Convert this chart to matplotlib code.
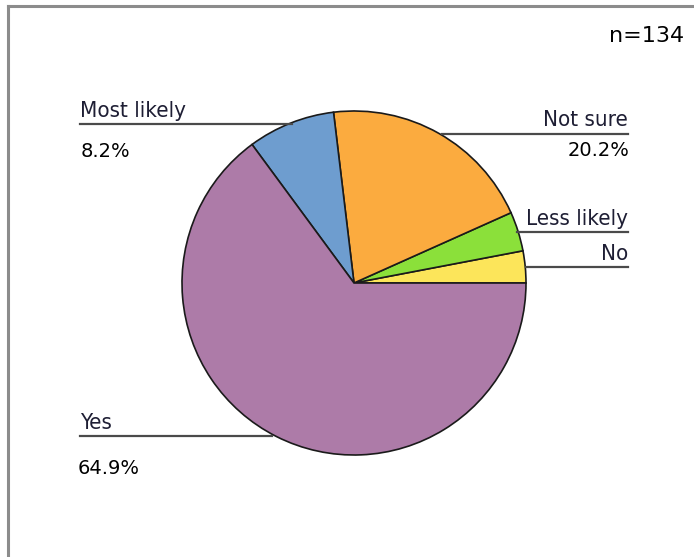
import matplotlib
matplotlib.use("Agg")
import matplotlib.pyplot as plt
from matplotlib.lines import Line2D

labels = ["No", "Less likely", "Not sure", "Most likely", "Yes"]
values = [3.0, 3.7, 20.2, 8.2, 64.9]
pct_labels = ["", "", "20.2%", "8.2%", "64.9%"]
colors = ["#FCE55A", "#8BE03A", "#FBAB3F", "#6E9DCF", "#AD7BA8"]
n_text = "n=134"

W, H = 694, 557
fig = plt.figure(figsize=(W / 100, H / 100), dpi=100)
ax = fig.add_axes([0, 0, 1, 1])

def Y(py):
    return H - py

ax.pie(values, colors=colors, startangle=0, counterclock=True,
       center=(354, Y(283)), radius=172, frame=True,
       wedgeprops=dict(edgecolor="#1a1a1a", linewidth=1.2))
ax.set_xlim(0, W)
ax.set_ylim(0, H)
ax.axis("off")

# frame lines (top and left)
ax.add_line(Line2D([8, W], [Y(6), Y(6)], color="#8c8c8c", lw=2.2, clip_on=False))
ax.add_line(Line2D([8, 8], [Y(6), 0], color="#8c8c8c", lw=2.2, clip_on=False))

lab_font = dict(family="DejaVu Sans", stretch="condensed", fontsize=16, color="#1e1e34")
pct_font = dict(family="DejaVu Sans", fontsize=14, color="#000000")
line_kw = dict(color="#4a4a4a", lw=1.6)

# Most likely
ax.plot([80, 292], [Y(124), Y(124)], **line_kw)
ax.text(80, Y(117), labels[3], ha="left", va="baseline", **lab_font)
ax.text(81, Y(151.5), pct_labels[3], ha="left", va="center", **pct_font)

# Not sure
ax.plot([442, 628], [Y(134), Y(134)], **line_kw)
ax.text(628, Y(126), labels[2], ha="right", va="baseline", **lab_font)
ax.text(630, Y(150), pct_labels[2], ha="right", va="center", **pct_font)

# Less likely
ax.plot([517, 628], [Y(232), Y(232)], **line_kw)
ax.text(628, Y(225), labels[1], ha="right", va="baseline", **lab_font)

# No
ax.plot([526, 628], [Y(267), Y(267)], **line_kw)
ax.text(628, Y(260), labels[0], ha="right", va="baseline", **lab_font)

# Yes
ax.plot([80, 272], [Y(436), Y(436)], **line_kw)
ax.text(80, Y(429), labels[4], ha="left", va="baseline", **lab_font)
ax.text(78, Y(469), pct_labels[4], ha="left", va="center", **pct_font)

ax.text(684, Y(36), n_text, ha="right", va="center", family="DejaVu Sans", fontsize=16, color="#000000")

fig.savefig("out.png", dpi=100)
